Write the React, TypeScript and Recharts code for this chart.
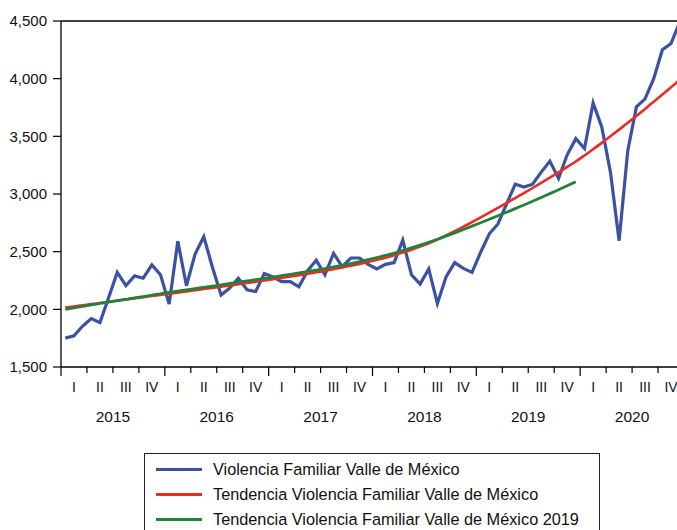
import {
  LineChart,
  Line,
  XAxis,
  YAxis,
  ReferenceLine,
  Legend,
} from "recharts";

// monthly series, Jan 2015 .. Dec 2020
const violencia = [
  1750, 1770, 1855, 1920, 1885, 2100, 2320, 2205, 2290, 2270, 2385, 2300,
  2045, 2590, 2205, 2480, 2630, 2365, 2125, 2185, 2270, 2170, 2155, 2310,
  2280, 2240, 2240, 2195, 2335, 2425, 2300, 2485, 2370, 2445, 2445, 2390,
  2350, 2390, 2405, 2600, 2300, 2220, 2350, 2050, 2280, 2405, 2355, 2320,
  2495, 2655, 2740, 2915, 3085, 3060, 3085, 3190, 3285, 3135, 3340, 3480,
  3395, 3790, 3580, 3190, 2595, 3375, 3755, 3825, 4000, 4250, 4305, 4490,
];

const tendencia = [
  2015, 2025, 2035, 2045, 2055, 2065, 2075, 2085, 2095, 2105, 2115, 2125,
  2135, 2145, 2155, 2165, 2176, 2186, 2197, 2207, 2218, 2229, 2240, 2251,
  2262, 2273, 2284, 2296, 2308, 2321, 2334, 2348, 2363, 2378, 2394, 2411,
  2429, 2448, 2469, 2492, 2517, 2544, 2573, 2605, 2640, 2677, 2716, 2756,
  2797, 2838, 2880, 2922, 2965, 3008, 3052, 3097, 3142, 3188, 3235, 3282,
  3334, 3388, 3443, 3500, 3558, 3617, 3677, 3738, 3800, 3862, 3925, 3988,
];

// trend fitted up to 2019 only
const tendencia2019 = [
  2000, 2013, 2026, 2039, 2051, 2063, 2075, 2087, 2099, 2111, 2123, 2135,
  2147, 2158, 2169, 2180, 2191, 2202, 2213, 2224, 2235, 2246, 2257, 2268,
  2280, 2292, 2304, 2316, 2328, 2341, 2354, 2368, 2382, 2397, 2413, 2430,
  2448, 2467, 2488, 2510, 2533, 2557, 2582, 2608, 2635, 2663, 2692, 2721,
  2751, 2781, 2811, 2842, 2873, 2905, 2937, 2970, 3003, 3037, 3071, 3106,
];

const years = ["2015", "2016", "2017", "2018", "2019", "2020"];
const quarterLabels = ["I", "II", "III", "IV"];
const yTicks = [1500, 2000, 2500, 3000, 3500, 4000, 4500];

const BLUE = "#3b52a3";
const RED = "#ee2a24";
const GREEN = "#23813a";
const FONT = "'Liberation Sans', Arial, sans-serif";

const seriesInfo = [
  { name: "Violencia Familiar Valle de México", color: BLUE },
  { name: "Tendencia Violencia Familiar Valle de México", color: RED },
  { name: "Tendencia Violencia Familiar Valle de México 2019", color: GREEN },
];

const data = violencia.map((v, i) => ({
  t: i + 0.5,
  violencia: v,
  tendencia: tendencia[i],
  tendencia2019: tendencia2019[i],
}));

// every half quarter: boundaries get tick marks, centres get the quarter label
const xTicks = Array.from({ length: years.length * 8 + 1 }, (_, k) => k * 1.5);

// eslint-disable-next-line @typescript-eslint/no-explicit-any
function QuarterTick(props: any) {
  const { x, y, payload } = props;
  const v = payload.value as number;
  if (v % 3 === 0) {
    const major = v % 12 === 0;
    const yearIdx = (v - 6) / 12;
    return (
      <g>
        <line x1={x} x2={x} y1={y} y2={y + (major ? 9 : 6)} stroke="#000" strokeWidth={1.2} />
        {v % 12 === 6 && (
          <text x={x} y={y + 55} textAnchor="middle" fontSize={15.5} fill="#111" fontFamily={FONT}>
            {years[yearIdx]}
          </text>
        )}
      </g>
    );
  }
  const q = Math.floor(v / 3) % 4;
  return (
    <text x={x} y={y + 25} textAnchor="middle" fontSize={14} fill="#111" fontFamily={FONT}>
      {quarterLabels[q]}
    </text>
  );
}

function LegendBox() {
  return (
    <div
      style={{
        width: 456,
        height: 90,
        boxSizing: "border-box",
        border: "1px solid #222",
        padding: "3px 0 0 11px",
        background: "#fff",
        fontFamily: FONT,
        fontSize: 16.3,
        color: "#111",
      }}
    >
      {seriesInfo.map((s) => (
        <div key={s.name} style={{ display: "flex", alignItems: "center", height: 25 }}>
          <span
            style={{ display: "inline-block", width: 46, height: 3, background: s.color, marginRight: 11 }}
          />
          <span style={{ whiteSpace: "nowrap" }}>{s.name}</span>
        </div>
      ))}
    </div>
  );
}

export default function App() {
  return (
    <div
      style={{
        position: "fixed",
        left: 0,
        top: 0,
        width: 677,
        height: 530,
        overflow: "hidden",
        background: "#fff",
        fontFamily: FONT,
      }}
    >
      <LineChart width={690} height={530} data={data} margin={{ top: 21, right: 6, bottom: 63, left: 0 }}>
        <XAxis
          dataKey="t"
          type="number"
          domain={[0, 72]}
          ticks={xTicks}
          interval={0}
          tick={QuarterTick}
          tickLine={false}
          tickSize={0}
          tickMargin={0}
          axisLine={{ stroke: "#000", strokeWidth: 1.3 }}
          height={100}
        />
        <YAxis
          type="number"
          domain={[1500, 4500]}
          ticks={yTicks}
          interval={0}
          width={61}
          tickSize={8}
          tickMargin={6}
          tickFormatter={(v: number) => v.toLocaleString("en-US")}
          tick={{ fontSize: 15, fill: "#111", fontFamily: FONT }}
          tickLine={{ stroke: "#000", strokeWidth: 1.2 }}
          axisLine={{ stroke: "#000", strokeWidth: 1.3 }}
        />
        <ReferenceLine y={4500} stroke="#000" strokeWidth={1.3} />
        <Legend
          layout="horizontal"
          verticalAlign="middle"
          align="center"
          content={<LegendBox />}
          wrapperStyle={{ left: 144, top: 453, width: 456 }}
        />
        <Line
          type="linear"
          dataKey="violencia"
          name={seriesInfo[0].name}
          stroke={BLUE}
          strokeWidth={3.2}
          dot={false}
          isAnimationActive={false}
        />
        <Line
          type="monotone"
          dataKey="tendencia"
          name={seriesInfo[1].name}
          stroke={RED}
          strokeWidth={2.6}
          dot={false}
          isAnimationActive={false}
        />
        <Line
          type="monotone"
          dataKey="tendencia2019"
          name={seriesInfo[2].name}
          stroke={GREEN}
          strokeWidth={2.8}
          dot={false}
          isAnimationActive={false}
        />
      </LineChart>
    </div>
  );
}
